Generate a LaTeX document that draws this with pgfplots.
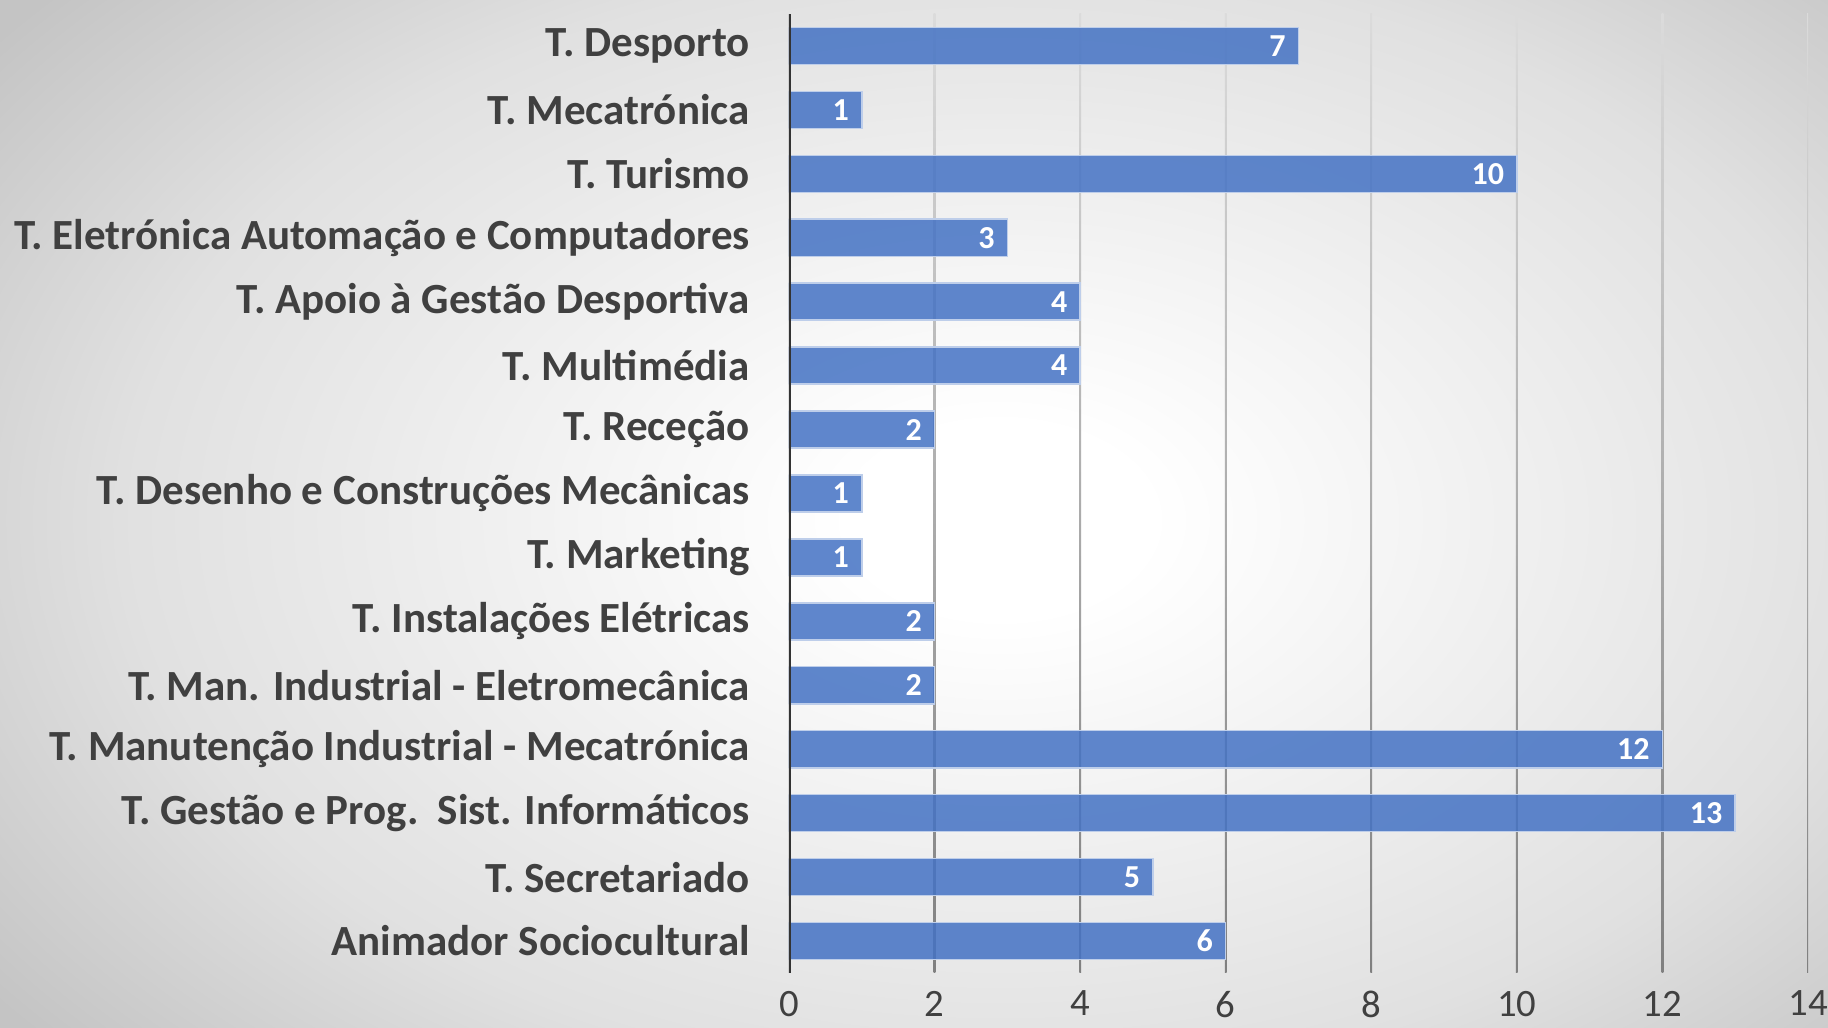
\documentclass[border=0pt]{standalone}
\usepackage{pgfplots}
\pgfplotsset{compat=1.18}
\usepackage{fontspec}
\setmainfont{Carlito}
\definecolor{barblue}{HTML}{4472C4}
\definecolor{txt}{HTML}{404040}
\pgfdeclareradialshading{bgshade}{\pgfpoint{0bp}{0bp}}{color(0bp)=(white); color(3bp)=(white); color(17.5bp)=(black!12); color(25bp)=(black!23); color(50bp)=(black!23)}
\begin{document}
\begin{tikzpicture}[x=1pt,y=1pt]
\begin{scope}
\clip (0,0) rectangle (731.2,411.2);
\fill[black!23] (0,0) rectangle (731.2,411.2);
\shade[shading=bgshade] (-100,-116.8) rectangle (900,523.2);
\end{scope}
\begin{axis}[
  at={(315.6pt,22pt)}, anchor=south west, scale only axis,
  width=407.6pt, height=383.6pt,
  xbar, xmin=0, xmax=14, ymin=-0.5, ymax=14.5,
  bar width=0.58,
  xtick={0,2,...,14}, ytick={0,...,14},
  yticklabels={Animador Sociocultural, T. Secretariado, T. Gestão e Prog.~~Sist. Informáticos, T. Manutenção Industrial - Mecatrónica, T. Man. Industrial - Eletromecânica, T. Instalações Elétricas, T. Marketing, T. Desenho e Construções Mecânicas, T. Receção, T. Multimédia, T. Apoio à Gestão Desportiva, T. Eletrónica Automação e Computadores, T. Turismo, T. Mecatrónica, T. Desporto},
  axis line style={draw=none},
  major tick length=0,
  /pgf/number format/assume math mode=true,
  xticklabel style={font=\fontsize{15.5}{15.5}\selectfont, text=txt, inner sep=1pt, yshift=-6pt},
  yticklabel style={font=\bfseries\fontsize{17.2}{17.5}\selectfont, text=txt, xshift=-12.2pt},
  nodes near coords,
  nodes near coords style={anchor=east, text=white, text opacity=1, font=\bfseries\fontsize{12.8}{13}\selectfont, xshift=-1.5pt},
]
\pgfplotsinvokeforeach{2,4,...,14}{
  \shade[top color=black!14, bottom color=black!50] ([xshift=-0.35pt]axis cs:#1,-0.5) rectangle ([xshift=0.35pt]axis cs:#1,14.5);
}
\addplot[fill=barblue, fill opacity=0.85, draw=white!65!barblue, line width=0.6pt] coordinates {
  (6,0) (5,1) (13,2) (12,3) (2,4) (2,5) (1,6) (1,7) (2,8) (4,9) (4,10) (3,11) (10,12) (1,13) (7,14)};
\draw[black!80, line width=1.5pt] (axis cs:0,-0.5) -- (axis cs:0,14.5);
\end{axis}
\pgfresetboundingbox
\useasboundingbox (0,0) rectangle (731.2,411.2);
\end{tikzpicture}
\end{document}
